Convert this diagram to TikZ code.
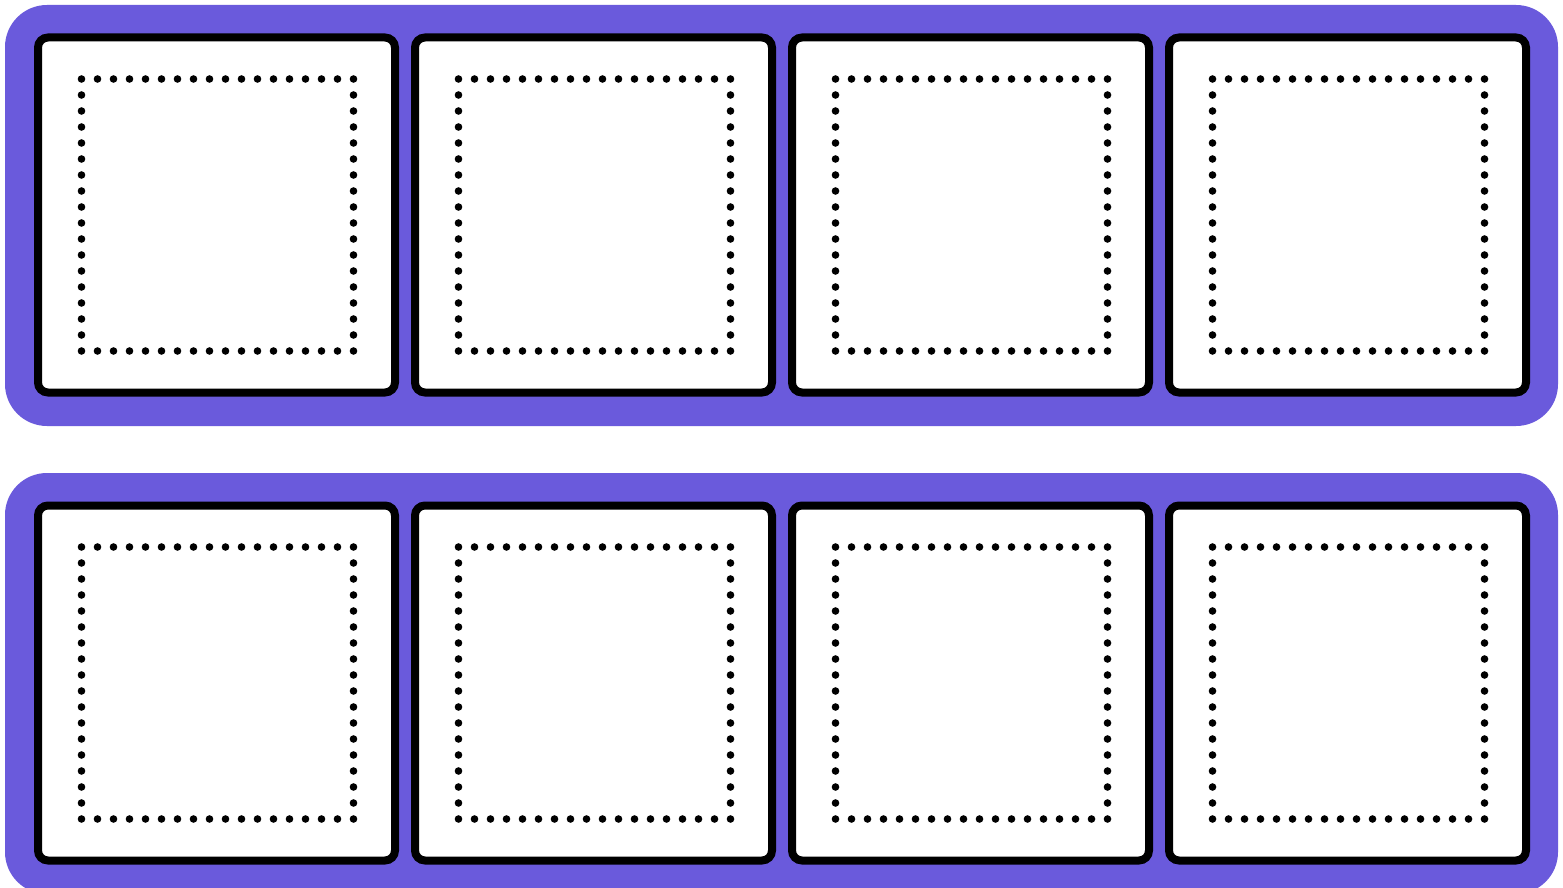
\documentclass[tikz,border=0pt]{standalone}
\definecolor{barpurple}{RGB}{106,90,220}
\tikzset{
  bar/.style={rectangle, rounded corners=42pt, fill=barpurple, draw=none,
    minimum width=1553pt, minimum height=421pt, inner sep=0pt, outer sep=0pt},
  cell/.style={rectangle, rounded corners=10pt, draw=black, line width=8pt, fill=white,
    minimum width=357pt, minimum height=355pt, inner sep=0pt, outer sep=0pt},
  dotsq/.style={rectangle, draw=black, line width=7.6pt, line cap=round,
    dash pattern=on 0pt off 16pt, minimum width=272pt, minimum height=272pt,
    inner sep=0pt, outer sep=0pt},
}
\begin{document}
\begin{tikzpicture}[x=1pt,y=-1pt]
\clip (0,0) rectangle (1563,888);
\fill[white] (0,0) rectangle (1563,888);
\node[bar] (topbar) at (781.5,215.5) {};
\node[bar] (botbar) at (781.5,683.5) {};
\foreach \i in {0,...,3} {
  \node[cell] (ca\i) at ({216.5+377*\i},215) {};
  \node[dotsq] (da\i) at ({217.5+377*\i},215) {};
  \node[cell] (cb\i) at ({216.5+377*\i},683) {};
  \node[dotsq] (db\i) at ({217.5+377*\i},683) {};
}
\end{tikzpicture}
\end{document}
